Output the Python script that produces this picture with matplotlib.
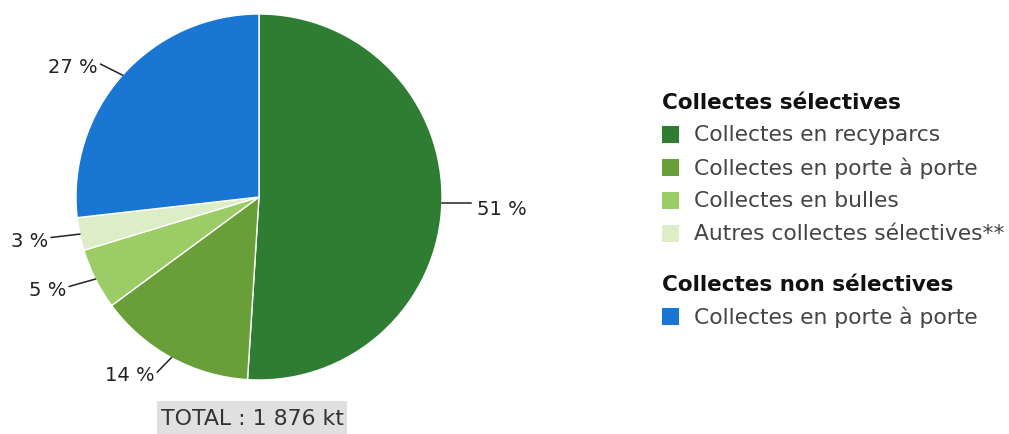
import matplotlib
matplotlib.use("Agg")
import matplotlib.pyplot as plt
from matplotlib.patches import Rectangle
import numpy as np

plt.rcParams['font.family'] = ['DejaVu Sans']

categories = ["Collectes en recyparcs", "Collectes en porte à porte", "Collectes en bulles",
              "Autres collectes sélectives**", "Collectes en porte à porte"]
groups = ["sel", "sel", "sel", "sel", "nonsel"]
values = [51.0, 13.9, 5.4, 2.9, 26.8]
labels = ["51 %", "14 %", "5 %", "3 %", "27 %"]
colors = ["#2e7d32", "#689f38", "#9ccc65", "#dcedc8", "#1976d2"]
group_titles = ["Collectes sélectives", "Collectes non sélectives"]
total_text = "TOTAL : 1 876 kt"

W, H = 1009, 435
fig = plt.figure(figsize=(W/100, H/100), dpi=100)

# pie axes: center (259,198), radius 183 px
cx, cy, r = 259, 198, 183
ax = fig.add_axes([(cx - r)/W, 1 - (cy + r)/H, 2*r/W, 2*r/H])
wedges, _ = ax.pie(values, colors=colors, startangle=90, counterclock=False,
                   radius=1.0, wedgeprops=dict(edgecolor="white", linewidth=1.0))
ax.set_xlim(-1, 1)
ax.set_ylim(-1, 1)
ax.set_aspect('equal')
ax.axis('off')

# leader lines and labels
for w, lab in zip(wedges, labels):
    ang = np.deg2rad((w.theta1 + w.theta2) / 2)
    x0, y0 = np.cos(ang), np.sin(ang)
    if x0 > 0.9:
        x1, y1 = 1.16, y0
        dy = -0.03
    else:
        x1, y1 = 1.16 * x0, 1.09 * y0
        dy = -0.015
    ax.plot([x0, x1], [y0, y1], color="#222222", lw=1.1, clip_on=False)
    ha = "left" if x1 > 0 else "right"
    off = 0.03 if x1 > 0 else -0.015
    ax.text(x1 + off, y1 + dy, lab, ha=ha, va="center", fontsize=14,
            color="#222222", clip_on=False)

# total box
fig.patches.append(Rectangle((157/W, 0), (347-157)/W, (435-402)/H,
                             transform=fig.transFigure, facecolor="#e0e0e0",
                             edgecolor="none"))
fig.text(252/W, 1 - 419/H, total_text, ha="center", va="center", fontsize=15.8,
         color="#333333")

# legend
lx = 662
sq = 17
y = 103
first = True
for g_idx, g in enumerate(["sel", "nonsel"]):
    if not first:
        y += 18
    fig.text(lx/W, 1 - y/H, group_titles[g_idx], ha="left", va="center",
             fontsize=15.5, fontweight="bold", color="#111111")
    y += 32
    for cat, grp, col in zip(categories, groups, colors):
        if grp != g:
            continue
        fig.patches.append(Rectangle((lx/W, 1 - (y + sq/2)/H), sq/W, sq/H,
                                     transform=fig.transFigure, facecolor=col,
                                     edgecolor="none"))
        fig.text(694/W, 1 - y/H, cat, ha="left", va="center", fontsize=15.7,
                 color="#444444")
        y += 33
    first = False

fig.savefig("out.png", dpi=100, facecolor="white")
